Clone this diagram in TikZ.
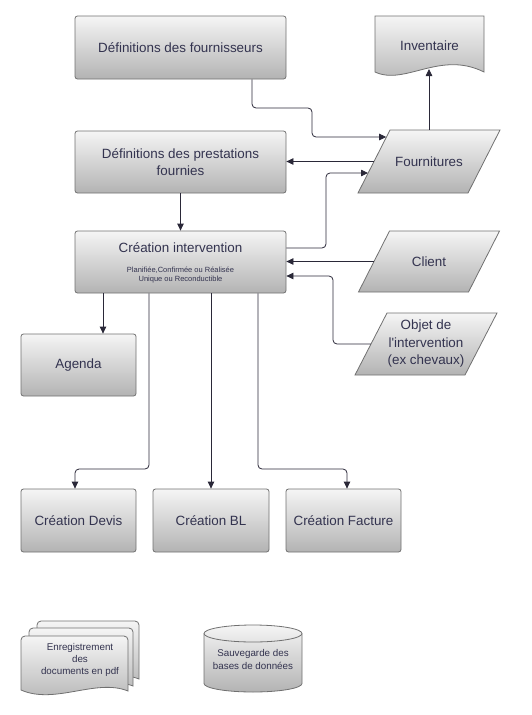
\documentclass[tikz,border=0pt]{standalone}
\usepackage{fontspec}
\setmainfont{Liberation Sans}
\usetikzlibrary{arrows.meta,calc}
\definecolor{txtcol}{HTML}{33334F}
\definecolor{linecol}{HTML}{2A2838}
\definecolor{bordercol}{HTML}{707070}
\definecolor{topcol}{HTML}{F5F5F5}
\definecolor{botcol}{HTML}{B3B3B3}
\begin{document}
\begin{tikzpicture}[x=1pt,y=1pt,
  shapefill/.style={draw=bordercol, line width=0.8pt, top color=topcol, bottom color=botcol},
  box/.style={shapefill, rounded corners=2.5pt, text=txtcol, font=\fontsize{13.4}{17}\selectfont, align=center, inner sep=0pt},
  lbl/.style={text=txtcol, font=\fontsize{13.4}{17.5}\selectfont, align=center, inner sep=0pt},
  tiny/.style={text=txtcol, font=\fontsize{7.5}{8.3}\selectfont, align=center, inner sep=0pt},
  small/.style={text=txtcol, font=\fontsize{9.8}{12}\selectfont, align=center, inner sep=0pt},
  conn/.style={draw=linecol, line width=0.8pt, rounded corners=4pt},
  arr/.style={conn, -{Triangle[length=7pt,width=6.5pt]}}
]
\useasboundingbox (0,0) rectangle (532,-715);

% rectangular boxes
\node[box, minimum width=211pt, minimum height=63pt] (fsup) at (180.5,-47.5) {Définitions des fournisseurs};
\node[box, minimum width=211pt, minimum height=62pt] (prest) at (180.5,-162) {Définitions des prestations\\fournies};
\node[box, minimum width=211pt, minimum height=62pt] (inter) at (180.5,-262) {};
\node[lbl, anchor=base] (interT) at (180.5,-252) {Création intervention};
\node[tiny] (interS) at (180.5,-275) {Planifiée,Confirmée ou Réalisée\\Unique ou Reconductible};
\node[box, minimum width=115pt, minimum height=62pt] (agenda) at (78.5,-365) {Agenda};
\node[box, minimum width=115pt, minimum height=63pt] (devis) at (78.5,-520.5) {Création Devis};
\node[box, minimum width=116pt, minimum height=63pt] (bl) at (211,-520.5) {Création BL};
\node[box, minimum width=115pt, minimum height=63pt] (fact) at (343.5,-520.5) {Création Facture};

% parallelograms (data)
\shade[shapefill] (390,-130) -- (500,-130) -- (468,-193) -- (358,-193) -- cycle;
\node[lbl, minimum width=110pt, minimum height=63pt] (fourn) at (429,-161.5) {Fournitures};
\shade[shapefill] (389.5,-231) -- (499.5,-231) -- (468.5,-292) -- (358.5,-292) -- cycle;
\node[lbl, minimum width=110pt, minimum height=61pt] (client) at (429,-261.5) {Client};
\shade[shapefill] (387,-313) -- (497,-313) -- (465,-375) -- (355,-375) -- cycle;
\node[lbl, minimum width=110pt, minimum height=62pt] (objet) at (426,-344) {Objet de\\l\textquotesingle intervention\\(ex chevaux)};

% document
\shade[shapefill] (375,-16) -- (484,-16) -- (484,-72) .. controls (440,-50) and (405,-86) .. (375,-72) -- cycle;
\node[lbl] (invent) at (429.5,-46) {Inventaire};
\coordinate (inventB) at (430,-69);

% multi-document
\shade[shapefill] (37,-675) [rounded corners=4pt] -- (37,-621) -- (139,-621) [sharp corners] -- (139,-679) .. controls (108,-667) and (70,-690) .. (37,-675) -- cycle;
\shade[shapefill] (29,-682) [rounded corners=4pt] -- (29,-628) -- (133,-628) [sharp corners] -- (133,-686) .. controls (102,-674) and (63,-697) .. (29,-682) -- cycle;
\shade[shapefill] (21,-690) [rounded corners=4pt] -- (21,-636) -- (128,-636) [sharp corners] -- (128,-691) .. controls (96,-678) and (55,-705) .. (21,-690) -- cycle;
\node[small] (mdoc) at (80,-660) {Enregistrement\\des\\documents en pdf};

% database cylinder
\shade[shapefill] (204,-633.5) -- (204,-683.5) arc[start angle=180, end angle=360, x radius=49pt, y radius=8.5pt] -- (302,-633.5) arc[start angle=0, end angle=180, x radius=49pt, y radius=8.5pt] -- cycle;
\draw[draw=bordercol, line width=0.8pt] (204,-633.5) arc[start angle=180, end angle=360, x radius=49pt, y radius=8.5pt];
\node[small, font=\fontsize{9.8}{12.7}\selectfont] (sauv) at (253,-659.5) {Sauvegarde des\\bases de données};

% connectors
\draw[arr] ([xshift=71.5pt]fsup.south) |- (312,-108) -- (312,-137) -- ($(fourn.west)+(12.4,24.5)$);
\draw[arr] (fourn.west) -- (fourn.west -| prest.east);
\draw[arr] (fourn.north) -- (fourn.north |- inventB);
\draw[arr] (prest.south) -- (inter.north);
\draw[arr] ([yshift=14pt]inter.east) -| (326,-173) -- ($(fourn.west)+(-5.8,-11.5)$);
\draw[arr] (client.west) -- (client.west -| inter.east);
\draw[arr] (objet.west) -| (333,-276) -- ([yshift=-14pt]inter.east);
\draw[arr] ([xshift=-77.5pt]inter.south) -- ([xshift=-77.5pt]inter.south |- agenda.north);
\draw[arr] ([xshift=-31.5pt]inter.south) |- (75,-469) -- ([xshift=-3.5pt]devis.north);
\draw[arr] ([xshift=30.5pt]inter.south) -- (bl.north);
\draw[arr] ([xshift=77.5pt]inter.south) |- (347,-469) -- ([xshift=3.5pt]fact.north);
\end{tikzpicture}
\end{document}
